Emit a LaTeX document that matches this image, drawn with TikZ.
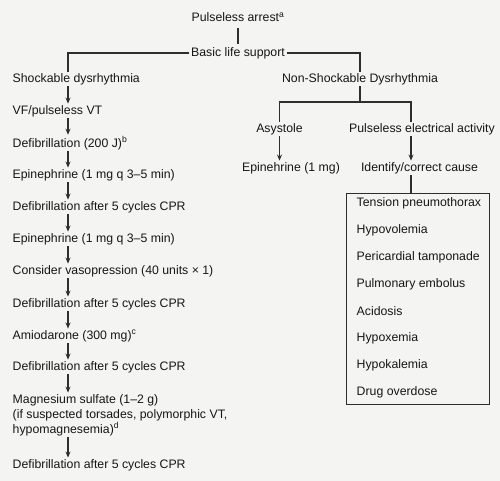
\documentclass[tikz,border=0pt]{standalone}
\usepackage{fontspec}
\setmainfont{Liberation Sans}
\usetikzlibrary{arrows.meta}
\definecolor{bgc}{HTML}{F4F4F2}
\definecolor{ink}{HTML}{161616}
\definecolor{lin}{HTML}{2E2E2E}
\begin{document}
\begin{tikzpicture}[x=1pt,y=-1pt,
  txt/.style={inner sep=1.5pt, text=ink, font=\fontsize{12.3}{15}\selectfont},
  lt/.style={txt, anchor=west},
  ln/.style={draw=lin, line width=1.1pt},
  arr/.style={ln, -{Stealth[length=6pt,width=5pt]}}]
\fill[bgc] (0,0) rectangle (500,481);
\useasboundingbox (0,0) rectangle (500,481);
\coordinate (lx) at (68,0);
\coordinate (px) at (411,0);
\coordinate (jn) at (360,102);
% top
\node[txt] (pa) at (238,17) {Pulseless arrest\textsuperscript{a}};
\node[txt] (bls) at (238,53) {Basic life support};
\draw[ln, shorten <=5pt, shorten >=2pt] (pa.south -| bls.north) -- (bls.north);
% left column
\node[lt] (shock) at (11,79) {Shockable dysrhythmia};
\node[lt] (vf) at (11,111) {VF/pulseless VT};
\node[lt] (d1) at (11,143) {Defibrillation (200 J)\textsuperscript{b}};
\node[lt] (e1) at (11,175) {Epinephrine (1 mg q 3–5 min)};
\node[lt] (d2) at (11,207) {Defibrillation after 5 cycles CPR};
\node[lt] (e2) at (11,239) {Epinephrine (1 mg q 3–5 min)};
\node[lt] (cv) at (11,271) {Consider vasopression (40 units × 1)};
\node[lt] (d3) at (11,304) {Defibrillation after 5 cycles CPR};
\node[lt] (am) at (11,336) {Amiodarone (300 mg)\textsuperscript{c}};
\node[lt] (d4) at (11,367) {Defibrillation after 5 cycles CPR};
\node[lt, align=left] (mg) at (11,415) {Magnesium sulfate (1–2 g)\\(if suspected torsades, polymorphic VT,\\hypomagnesemia)\textsuperscript{d}};
\node[lt] (d5) at (11,465) {Defibrillation after 5 cycles CPR};
\draw[ln] (bls.west) -| (shock.north -| lx);
\foreach \a/\b in {shock/vf, vf/d1, d1/e1, e1/d2, d2/e2, e2/cv, cv/d3, d3/am, am/d4, d4/mg, mg/d5}
  \draw[arr] (\a.south -| lx) -- (\b.north -| lx);
% right side
\node[txt] (ns) at (360,79) {Non-Shockable Dysrhythmia};
\draw[ln] (bls.east) -| (ns.north);
\node[txt] (asys) at (279.5,129) {Asystole};
\node[txt] (pea) at (422,129) {Pulseless electrical activity};
\draw[ln] (ns.south) -- (jn);
\draw[ln] (asys.north) |- (jn) -| (pea.north -| px);
\node[txt] (epi) at (291,168) {Epinehrine (1 mg)};
\node[txt] (idc) at (419.5,168) {Identify/correct cause};
\draw[arr] (asys.south) -- (asys.south |- epi.north);
\draw[arr] (pea.south -| px) -- (idc.north -| px);
\node[draw=lin, line width=0.9pt, minimum width=143pt, minimum height=211pt, anchor=north west, inner sep=0pt] (box) at (346,193) {};
\draw[ln] (idc.south -| px) -- (box.north -| px);
\node[lt] (c1) at (355,203) {Tension pneumothorax};
\node[lt] (c2) at (355,230) {Hypovolemia};
\node[lt] (c3) at (355,257) {Pericardial tamponade};
\node[lt] (c4) at (355,284) {Pulmonary embolus};
\node[lt] (c5) at (355,311) {Acidosis};
\node[lt] (c6) at (355,338) {Hypoxemia};
\node[lt] (c7) at (355,365) {Hypokalemia};
\node[lt] (c8) at (355,392) {Drug overdose};
\end{tikzpicture}
\end{document}
